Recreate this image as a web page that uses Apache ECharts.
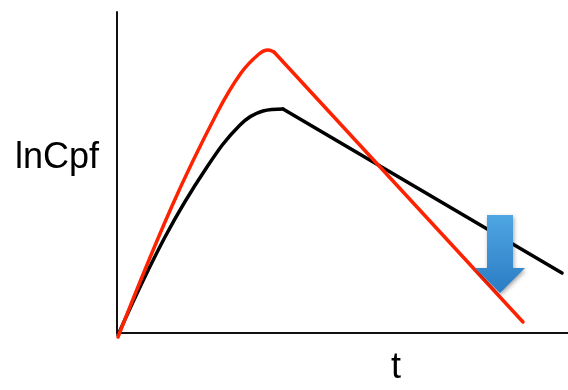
<!DOCTYPE html>
<html>
<head>
<meta charset="utf-8">
<script src="https://cdn.jsdelivr.net/npm/echarts@6/dist/echarts.min.js"></script>
<style>
  html, body { margin: 0; padding: 0; background: #fff; }
  #chart { width: 568px; height: 390px; }
</style>
</head>
<body>
<div id="chart"></div>
<script>
// Plasma concentration (log scale) versus time: two dosing profiles.
// Red profile: absorption phase then elimination line
const redRiseT = [1, 55, 100, 124, 142, 151, 157];
const redRiseC = [-4, 127, 220, 260, 279, 283, 281];
const redFallT = [157, 406];
const redFallC = [281, 11];

// Black profile: slower absorption, shallower elimination line
const blackRiseT = [1, 48, 90, 123, 146, 166];
const blackRiseC = [-2, 96, 166, 208, 222, 224];
const blackFallT = [166, 445];
const blackFallC = [224, 60];

const yAxisTitle = 'lnCpf';
const xAxisTitle = 't';

const zip = (a, b) => a.map((v, i) => [v, b[i]]);

const chart = echarts.init(document.getElementById('chart'));

const lineStyle = (color) => ({ color: color, width: 3.5, cap: 'round', join: 'round' });

chart.setOption({
  animation: false,
  grid: { left: 117, right: 0, top: 12, bottom: 57 },
  xAxis: {
    type: 'value', min: 0, max: 451,
    axisLine: { show: true, lineStyle: { color: '#111', width: 2 } },
    axisTick: { show: false }, axisLabel: { show: false }, splitLine: { show: false }
  },
  yAxis: {
    type: 'value', min: 0, max: 321,
    axisLine: { show: true, lineStyle: { color: '#111', width: 2 } },
    axisTick: { show: false }, axisLabel: { show: false }, splitLine: { show: false }
  },
  series: [
    { type: 'line', data: zip(blackRiseT, blackRiseC), smooth: 0.4,
      showSymbol: false, clip: false, lineStyle: lineStyle('#000') },
    { type: 'line', data: zip(blackFallT, blackFallC), showSymbol: false, clip: false,
      lineStyle: lineStyle('#000') },
    { type: 'line', data: zip(redRiseT, redRiseC), smooth: 0.4,
      showSymbol: false, clip: false, lineStyle: lineStyle('#ff2200') },
    { type: 'line', data: zip(redFallT, redFallC), showSymbol: false, clip: false,
      lineStyle: lineStyle('#ff2200') }
  ],
  graphic: [
    { type: 'text', left: 15, top: 140,
      style: { text: yAxisTitle, font: '36px "Liberation Sans", Arial, sans-serif', fill: '#000' } },
    { type: 'text', left: 391, top: 350,
      style: { text: xAxisTitle, font: '36px "Liberation Sans", Arial, sans-serif', fill: '#000' } },
    { type: 'polygon', z: 10,
      shape: { points: [[487, 215], [513, 215], [513, 268], [525, 268], [500, 293], [475, 268], [487, 268]] },
      style: {
        fill: new echarts.graphic.LinearGradient(0, 0, 0, 1, [
          { offset: 0, color: '#4ea6e2' },
          { offset: 1, color: '#2b7cc4' }
        ]),
        shadowBlur: 4, shadowColor: 'rgba(0,0,0,0.35)', shadowOffsetX: 1, shadowOffsetY: 2
      } }
  ]
});
</script>
</body>
</html>
